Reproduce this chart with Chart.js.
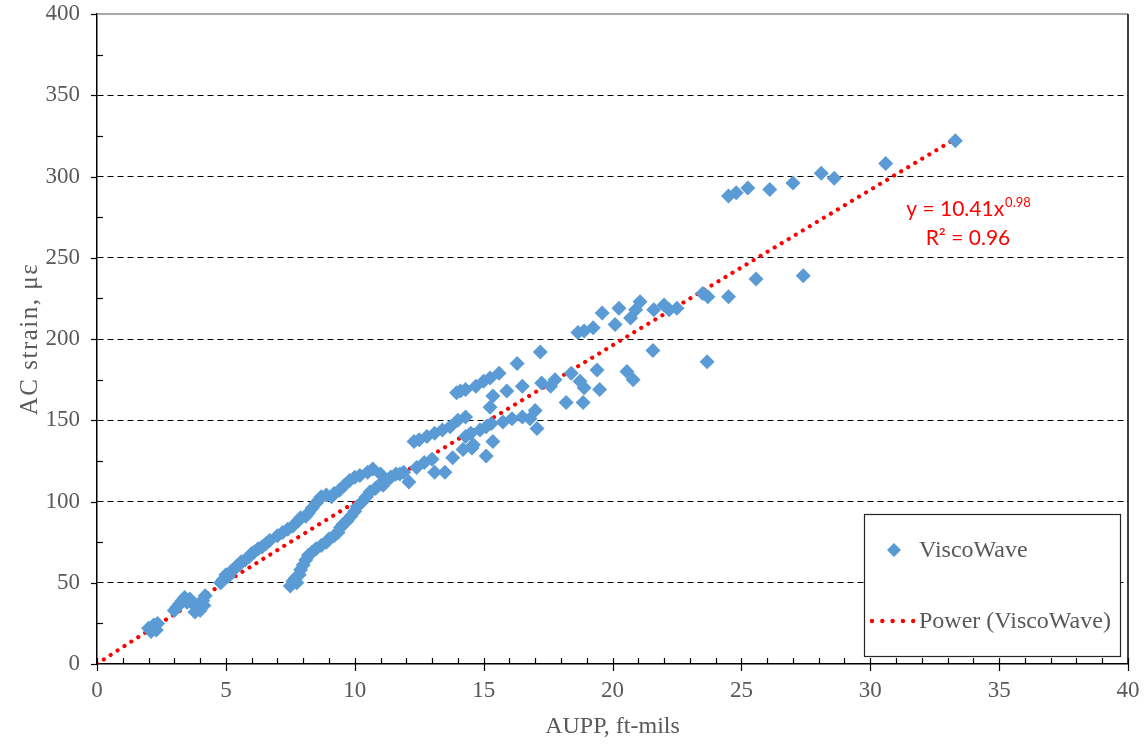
<!DOCTYPE html>
<html>
<head>
<meta charset="utf-8">
<script src="https://cdn.jsdelivr.net/npm/chart.js@4.4.1/dist/chart.umd.min.js"></script>
<style>
  html, body { margin: 0; padding: 0; background: #fff; }
  #wrap { width: 1148px; height: 744px; }
</style>
</head>
<body>
<div id="wrap"><canvas id="chart" width="1148" height="744"></canvas></div>
<script>
// Measured AUPP (ft-mils) and AC strain (microstrain) pairs
const auppValues = [
  2.0, 2.1, 2.2, 2.3, 2.35,
  3.0, 3.1, 3.2, 3.3, 3.4, 3.5, 3.6,
  3.8, 3.85, 3.95, 4.0, 4.1, 4.15, 4.2,
  4.8, 4.9, 5.0, 5.1, 5.2, 5.3, 5.4, 5.5, 5.6, 5.75, 5.9, 6.0, 6.1, 6.25, 6.4, 6.55, 6.7,
  7.0, 7.2, 7.4, 7.6, 7.8, 7.9, 8.1, 8.2, 8.35, 8.5, 8.6, 8.7, 8.9, 9.1, 9.2, 9.4, 9.6, 9.8,
  10.0, 10.2, 10.5, 10.7,
  7.5, 7.6, 7.7, 7.75, 7.85, 7.9, 8.0, 8.1, 8.2, 8.35, 8.5, 8.7, 8.9, 9.0, 9.2, 9.35, 9.45,
  9.55, 9.7, 9.85, 10.0, 10.1, 10.3, 10.45, 10.6, 10.8, 11.0, 11.2, 11.4, 11.6, 11.9,
  11.0, 11.1, 11.4, 11.75, 12.1, 12.4, 12.7, 13.0,
  12.3, 12.5, 12.8, 13.1, 13.4, 13.7, 14.0, 14.3, 14.3, 14.55,
  13.1, 13.5, 13.8, 14.2, 14.6, 15.1, 15.36,
  14.5, 14.86, 15.1, 15.3, 15.75, 16.1, 16.5, 16.8, 17.0, 17.07,
  13.95, 14.1, 14.3, 14.7, 15.0, 15.25, 15.6, 15.36, 15.25, 15.9, 16.5, 16.3, 17.2, 17.25,
  17.6, 17.77, 18.2, 18.4, 18.74, 18.86, 18.9, 19.4, 19.5, 18.66, 18.9, 19.25,
  19.6, 20.1, 20.25, 20.7, 20.9, 21.07, 21.6, 22.0, 22.2, 22.5, 23.5, 23.7, 24.5, 25.57,
  27.4, 21.57, 23.67, 20.56, 20.8,
  24.5, 24.8, 25.25, 26.1, 27.0, 28.1, 28.6, 30.6, 33.3
];
const strainValues = [
  22, 20, 24, 21, 25,
  33, 35, 37, 39, 41, 38, 40,
  32, 35, 37, 33, 39, 36, 42,
  50, 52, 55, 54, 57, 58, 60, 61, 63, 64, 66, 68, 69, 71, 72, 74, 76,
  79, 81, 83, 85, 88, 90, 91, 93, 96, 99, 101, 103, 104, 103, 105, 107, 110, 113,
  115, 116, 118, 120,
  48, 51, 53, 50, 55, 58, 61, 64, 67, 69, 71, 73, 75, 77, 79, 81, 84,
  86, 88, 91, 94, 97, 100, 103, 106, 108, 111, 113, 115, 117, 118,
  117, 110, 115, 117, 112, 121, 124, 126,
  137, 138, 140, 142, 144, 146, 150, 152, 140, 133,
  118, 118, 127, 132, 135, 128, 137,
  142, 144, 146, 148, 149, 151, 152, 151, 156, 145,
  167, 168, 169, 171, 174, 176, 179, 165, 158, 168, 171, 185, 192, 173,
  171, 175, 161, 179, 174, 161, 170, 181, 169, 204, 205, 207,
  216, 209, 219, 213, 218, 223, 218, 221, 218, 219, 228, 226, 226, 237,
  239, 193, 186, 180, 175,
  288, 290, 293, 292, 296, 302, 299, 308, 322
];

// Power-law trendline coefficients (y = a * x^b) and fit statistic
const trendCoefA = 10.41;
const trendExpB = 0.98;
const trendR2 = 0.96;
const trendXMax = 33.3;

// Axis ranges and tick spacing
const xTicksMajor = [0, 5, 10, 15, 20, 25, 30, 35, 40];
const yTicksMajor = [0, 50, 100, 150, 200, 250, 300, 350, 400];
const xMinorStep = 1;
const yMinorStep = 25;

const seriesName = 'ViscoWave';
const trendName = 'Power (ViscoWave)';
const xTitle = 'AUPP, ft-mils';
const yTitle = 'AC strain, \u03bc\u03b5';

const blue = '#5B9BD5';
const red = '#FF0000';
const textGrey = '#595959';
const serif = '"Liberation Serif", "Times New Roman", serif';

const points = auppValues.map((x, i) => ({ x: x, y: strainValues[i] }));

const trendPoints = [];
for (let i = 0; i <= 400; i++) {
  const x = trendXMax * i / 400;
  trendPoints.push({ x: x, y: trendCoefA * Math.pow(x, trendExpB) });
}

// Tick marks, plot frame, y title, legend box and the trend equation
const decorations = {
  id: 'decorations',
  afterDraw(chart) {
    const ctx = chart.ctx;
    const xs = chart.scales.x, ys = chart.scales.y;
    const a = chart.chartArea;
    ctx.save();

    // frame: top and right edges
    ctx.lineWidth = 1.5;
    ctx.strokeStyle = '#8c8c8c';
    ctx.beginPath();
    ctx.moveTo(a.left, a.top); ctx.lineTo(a.right, a.top);
    ctx.stroke();
    ctx.strokeStyle = '#000';
    ctx.beginPath();
    ctx.moveTo(a.right, a.top); ctx.lineTo(a.right, a.bottom);
    ctx.stroke();

    ctx.strokeStyle = '#000';
    ctx.lineWidth = 1.2;
    // x axis ticks
    for (let v = xs.min; v <= xs.max + 1e-9; v += xMinorStep) {
      const px = Math.round(xs.getPixelForValue(v)) + 0.5;
      const major = xTicksMajor.includes(Math.round(v * 1000) / 1000);
      ctx.beginPath();
      ctx.moveTo(px, a.bottom - 6);
      ctx.lineTo(px, major ? a.bottom + 7 : a.bottom);
      ctx.stroke();
    }
    // y axis ticks
    for (let v = ys.min; v <= ys.max + 1e-9; v += yMinorStep) {
      const py = Math.round(ys.getPixelForValue(v)) + 0.5;
      const major = yTicksMajor.includes(v);
      ctx.beginPath();
      if (major) { ctx.moveTo(a.left - 6, py); ctx.lineTo(a.left, py); }
      else { ctx.moveTo(a.left, py); ctx.lineTo(a.left + 6, py); }
      ctx.stroke();
    }

    // y axis title, slightly letter-spaced
    ctx.save();
    ctx.translate(30, (a.top + a.bottom) / 2);
    ctx.rotate(-Math.PI / 2);
    ctx.fillStyle = textGrey;
    ctx.font = '25px ' + serif;
    if ('letterSpacing' in ctx) ctx.letterSpacing = '1.5px';
    ctx.textAlign = 'center';
    ctx.textBaseline = 'middle';
    ctx.fillText(yTitle, 0, 0);
    ctx.restore();

    // legend box
    const lx = 864, ly = 514, lw = 256, lh = 142;
    ctx.fillStyle = '#fff';
    ctx.fillRect(lx, ly, lw, lh);
    ctx.strokeStyle = '#262626';
    ctx.lineWidth = 1.2;
    ctx.strokeRect(lx + 0.5, ly + 0.5, lw, lh);

    const dy1 = 550, dy2 = 621;
    ctx.fillStyle = blue;
    ctx.beginPath();
    ctx.moveTo(894, dy1 - 7); ctx.lineTo(901, dy1); ctx.lineTo(894, dy1 + 7); ctx.lineTo(887, dy1);
    ctx.closePath();
    ctx.fill();

    ctx.fillStyle = red;
    for (let k = 0; k < 5; k++) {
      ctx.beginPath();
      ctx.arc(872 + k * 10.3, dy2, 2.2, 0, Math.PI * 2);
      ctx.fill();
    }

    ctx.fillStyle = textGrey;
    ctx.font = '24px ' + serif;
    ctx.textBaseline = 'middle';
    ctx.textAlign = 'left';
    ctx.fillText(seriesName, 919, dy1 + 1);
    ctx.fillText(trendName, 919, dy2 + 1);

    // trend equation
    ctx.fillStyle = red;
    const sans = 'Lato, "Open Sans", sans-serif';
    const mainFont = '21px ' + sans, supFont = '13px ' + sans;
    const t1 = 'y = ' + trendCoefA.toFixed(2) + 'x';
    const t1s = trendExpB.toFixed(2);
    ctx.font = mainFont;
    const w1 = ctx.measureText(t1).width;
    ctx.font = supFont;
    const w1s = ctx.measureText(t1s).width;
    const cx = 968;
    const x1 = cx - (w1 + w1s) / 2;
    ctx.textBaseline = 'alphabetic';
    ctx.font = mainFont;
    ctx.fillText(t1, x1, 216);
    ctx.font = supFont;
    ctx.fillText(t1s, x1 + w1 + 1, 207);
    ctx.font = mainFont;
    const t2 = 'R\u00b2 = ' + trendR2.toFixed(2);
    ctx.textAlign = 'center';
    ctx.fillText(t2, cx, 245);

    ctx.restore();
  }
};

new Chart(document.getElementById('chart'), {
  type: 'scatter',
  data: {
    datasets: [
      {
        label: seriesName,
        data: points,
        pointStyle: 'rectRot',
        pointRadius: 7.5,
        pointBackgroundColor: blue,
        pointBorderColor: blue,
        pointBorderWidth: 0,
        showLine: false
      },
      {
        label: trendName,
        data: trendPoints,
        showLine: true,
        pointRadius: 0,
        borderColor: red,
        borderWidth: 4.2,
        borderDash: [0.001, 8.2],
        borderCapStyle: 'round',
        fill: false,
        tension: 0
      }
    ]
  },
  options: {
    responsive: false,
    animation: false,
    events: [],
    layout: { padding: { left: 0, top: 14, right: 20, bottom: 0 } },
    plugins: { legend: { display: false }, tooltip: { enabled: false } },
    scales: {
      x: {
        type: 'linear',
        min: 0, max: 40,
        afterBuildTicks: s => { s.ticks = xTicksMajor.map(v => ({ value: v })); },
        afterFit: s => { s.height = 80; s.paddingLeft = 0; s.paddingRight = 0; },
        ticks: { font: { family: serif, size: 23 }, color: textGrey, padding: 13, maxRotation: 0 },
        grid: { display: false, drawTicks: false },
        border: { color: '#000', width: 1.5 },
        title: { display: true, text: xTitle, color: textGrey, font: { family: serif, size: 24 }, padding: { top: 0, bottom: 3 } }
      },
      y: {
        type: 'linear',
        min: 0, max: 400,
        afterBuildTicks: s => { s.ticks = yTicksMajor.map(v => ({ value: v })); },
        afterFit: s => { s.width = 97; s.paddingTop = 0; s.paddingBottom = 0; },
        ticks: { font: { family: serif, size: 23 }, color: textGrey, padding: 17 },
        grid: {
          drawTicks: false,
          lineWidth: 1,
          color: c => (c.tick && (c.tick.value === 0 || c.tick.value === 400)) ? 'rgba(0,0,0,0)' : '#000'
        },
        border: { color: '#000', width: 1.5, dash: [6, 4] },
        title: { display: false }
      }
    }
  },
  plugins: [decorations]
});
</script>
</body>
</html>
